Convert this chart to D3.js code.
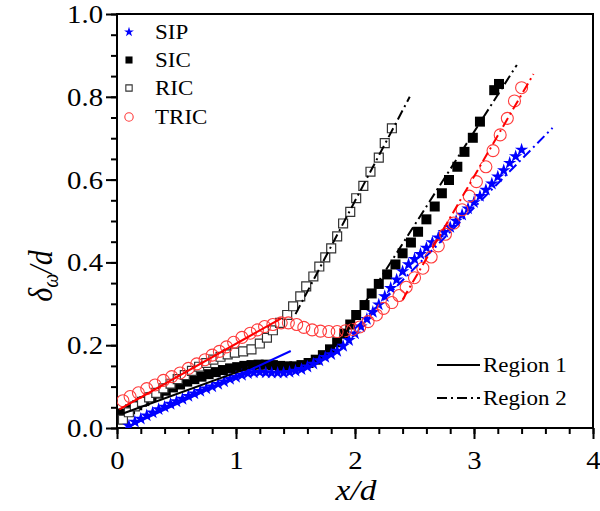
<!DOCTYPE html>
<html><head><meta charset="utf-8">
<script src="https://cdn.jsdelivr.net/npm/d3@7"></script>
<style>body{margin:0;background:#fff} svg{display:block}</style>
</head><body>
<svg id="chart" width="600" height="511"></svg>
<script>
// ---------------- data ----------------
const xTicks = [0, 1, 2, 3, 4];
const yTicks = [0.0, 0.2, 0.4, 0.6, 0.8, 1.0];
const xTickLabels = ["0", "1", "2", "3", "4"];
const yTickLabels = ["0.0", "0.2", "0.4", "0.6", "0.8", "1.0"];
const seriesNames = ["SIP", "SIC", "RIC", "TRIC"];
const regionNames = ["Region 1", "Region 2"];

const sipData = [[0.10,0.005],[0.15,0.015],[0.20,0.022],[0.25,0.030],[0.30,0.037],[0.35,0.045],[0.40,0.051],[0.45,0.058],[0.50,0.064],[0.55,0.070],[0.60,0.077],[0.65,0.083],[0.70,0.089],[0.75,0.095],[0.80,0.100],[0.85,0.106],[0.90,0.112],[0.95,0.118],[1.00,0.123],[1.05,0.128],[1.10,0.132],[1.15,0.134],[1.20,0.135],[1.25,0.134],[1.30,0.133],[1.35,0.133],[1.40,0.133],[1.45,0.135],[1.50,0.138],[1.55,0.142],[1.60,0.148],[1.65,0.155],[1.70,0.163],[1.75,0.171],[1.80,0.178],[1.85,0.186],[1.90,0.198],[1.95,0.212],[2.00,0.228],[2.05,0.245],[2.10,0.263],[2.15,0.280],[2.20,0.298],[2.25,0.318],[2.30,0.338],[2.35,0.358],[2.40,0.378],[2.45,0.395],[2.50,0.408],[2.55,0.420],[2.60,0.435],[2.65,0.448],[2.70,0.460],[2.75,0.473],[2.80,0.485],[2.85,0.500],[2.90,0.515],[2.95,0.530],[3.00,0.545],[3.05,0.560],[3.10,0.575],[3.15,0.590],[3.20,0.607],[3.25,0.622],[3.30,0.640],[3.35,0.656],[3.40,0.672]];

const sicData = [[0.05,0.035],[0.11,0.045],[0.17,0.055],[0.23,0.065],[0.29,0.075],[0.35,0.083],[0.41,0.090],[0.47,0.098],[0.53,0.105],[0.59,0.112],[0.65,0.118],[0.71,0.124],[0.77,0.130],[0.83,0.135],[0.89,0.140],[0.95,0.144],[1.01,0.147],[1.07,0.150],[1.13,0.152],[1.19,0.153],[1.25,0.153],[1.31,0.152],[1.37,0.150],[1.43,0.149],[1.49,0.149],[1.55,0.152],[1.61,0.157],[1.67,0.165],[1.73,0.176],[1.79,0.190],[1.85,0.207],[1.91,0.228],[1.96,0.250],[2.01,0.273],[2.08,0.297],[2.14,0.325],[2.20,0.348],[2.27,0.371],[2.34,0.395],[2.40,0.422],[2.47,0.448],[2.53,0.474],[2.60,0.504],[2.67,0.535],[2.73,0.567],[2.79,0.599],[2.86,0.631],[2.92,0.667],[2.99,0.701],[3.05,0.740],[3.17,0.816],[3.21,0.831]];

const ricData = [[0.05,0.020],[0.10,0.038],[0.15,0.052],[0.21,0.063],[0.27,0.074],[0.33,0.085],[0.39,0.096],[0.45,0.107],[0.51,0.118],[0.57,0.128],[0.63,0.138],[0.69,0.148],[0.75,0.157],[0.81,0.165],[0.87,0.172],[0.93,0.178],[0.99,0.182],[1.06,0.185],[1.13,0.190],[1.20,0.204],[1.26,0.218],[1.31,0.236],[1.37,0.254],[1.43,0.273],[1.48,0.294],[1.54,0.318],[1.59,0.342],[1.65,0.366],[1.70,0.390],[1.75,0.412],[1.80,0.434],[1.85,0.463],[1.90,0.494],[1.96,0.522],[2.01,0.555],[2.07,0.585],[2.13,0.619],[2.20,0.653],[2.25,0.688],[2.31,0.724]];

const tricData = [[0.05,0.066],[0.11,0.076],[0.18,0.085],[0.25,0.095],[0.32,0.104],[0.39,0.115],[0.46,0.124],[0.53,0.133],[0.60,0.144],[0.67,0.155],[0.74,0.165],[0.80,0.176],[0.86,0.185],[0.92,0.196],[0.98,0.207],[1.05,0.219],[1.12,0.229],[1.18,0.237],[1.24,0.245],[1.31,0.250],[1.38,0.254],[1.44,0.254],[1.51,0.250],[1.57,0.243],[1.64,0.237],[1.71,0.234],[1.78,0.233],[1.85,0.233],[1.92,0.235],[1.98,0.238],[2.04,0.244],[2.11,0.257],[2.18,0.273],[2.24,0.289],[2.31,0.303],[2.37,0.320],[2.43,0.340],[2.50,0.363],[2.57,0.386],[2.64,0.413],[2.70,0.440],[2.76,0.468],[2.83,0.495],[2.90,0.527],[2.96,0.560],[3.02,0.595],[3.10,0.631],[3.16,0.670],[3.22,0.708],[3.28,0.748],[3.34,0.790],[3.40,0.822]];

// linear fits: region 1 (solid) and region 2 (dash-dot)
const sipFit1 = [[0.07,0.000],[1.46,0.186]];
const sicFit1 = [[0.05,0.035],[1.20,0.155]];
const tricFit1 = [[0.02,0.045],[1.38,0.265]];
const sipFit2 = [[2.00,0.240],[3.66,0.725]];
const sicFit2 = [[1.90,0.220],[3.36,0.877]];
const ricFit2 = [[1.50,0.275],[2.46,0.800]];
const tricFit2 = [[2.40,0.310],[3.50,0.855]];

// ---------------- chart ----------------
const FONT = '"Liberation Serif","Times New Roman",Times,serif';
const SX = 1.15;
const L = 117, R = 593, T = 14, B = 428;
const svg = d3.select("#chart");
const x = d3.scaleLinear().domain([0, 4]).range([L, R]);
const y = d3.scaleLinear().domain([0, 1]).range([B, T]);

svg.append("defs").append("clipPath").attr("id", "plotclip")
  .append("rect").attr("x", L).attr("y", T).attr("width", R - L).attr("height", B - T);

function styleAxis(g) {
  g.select(".domain").remove();
  g.selectAll("line").attr("stroke", "#000").attr("stroke-width", 2);
}
svg.append("g").attr("transform", `translate(0,${B})`)
  .call(d3.axisBottom(x).tickValues(d3.range(0, 4.001, 0.2)).tickSize(6).tickFormat(""))
  .call(styleAxis);
svg.append("g").attr("transform", `translate(${L},0)`)
  .call(d3.axisLeft(y).tickValues(d3.range(0, 1.001, 0.05)).tickSize(6).tickFormat(""))
  .call(styleAxis);
const gx = svg.append("g").attr("transform", `translate(0,${B})`)
  .call(d3.axisBottom(x).tickValues(xTicks).tickSize(11).tickPadding(12)
    .tickFormat((d, i) => xTickLabels[i]))
  .call(styleAxis);
gx.selectAll("text").attr("font-family", FONT).attr("font-size", 25).attr("fill", "#000")
  .attr("transform", `scale(${SX},1)`);
const gy = svg.append("g").attr("transform", `translate(${L},0)`)
  .call(d3.axisLeft(y).tickValues(yTicks).tickSize(11)
    .tickFormat((d, i) => yTickLabels[i]))
  .call(styleAxis);
gy.selectAll("text").attr("font-family", FONT).attr("font-size", 25).attr("fill", "#000")
  .attr("x", -14 / SX).attr("dy", "0.34em").attr("transform", `scale(${SX},1)`);

svg.append("rect").attr("x", L).attr("y", T).attr("width", R - L).attr("height", B - T)
  .attr("fill", "none").attr("stroke", "#000").attr("stroke-width", 2);

// markers
const plot = svg.append("g").attr("clip-path", "url(#plotclip)");
const sqBig = d3.symbol().type(d3.symbolSquare).size(100);
const sqOpen = d3.symbol().type(d3.symbolSquare).size(80);
const star = d3.symbol().type(d3.symbolStar).size(55);

plot.append("g").selectAll("path").data(sicData).join("path")
  .attr("d", sqBig).attr("transform", d => `translate(${x(d[0])},${y(d[1])})`)
  .attr("fill", "#000");
plot.append("g").selectAll("path").data(ricData).join("path")
  .attr("d", sqOpen).attr("transform", d => `translate(${x(d[0])},${y(d[1])})`)
  .attr("fill", "#fff").attr("stroke", "#333").attr("stroke-width", 1.2);
plot.append("g").selectAll("path").data(sipData).join("path")
  .attr("d", star).attr("transform", d => `translate(${x(d[0])},${y(d[1])})`)
  .attr("fill", "#0000ff");
plot.append("g").selectAll("circle").data(tricData).join("circle")
  .attr("cx", d => x(d[0])).attr("cy", d => y(d[1])).attr("r", 6)
  .attr("fill", "none").attr("stroke", "#ff3b3b").attr("stroke-width", 1.1);

// fit lines
const line = d3.line().x(d => x(d[0])).y(d => y(d[1]));
const DASHDOT = "10,4,2,4";
const fits = [
  [sicFit1, "#000", null], [sipFit1, "#0000ff", null], [tricFit1, "#ff0000", null],
  [sipFit2, "#0000ff", DASHDOT], [sicFit2, "#000", DASHDOT], [ricFit2, "#000", DASHDOT], [tricFit2, "#ff0000", DASHDOT]
];
fits.forEach(([d, c, dash]) => {
  plot.append("path").attr("d", line(d)).attr("fill", "none").attr("stroke", c)
    .attr("stroke-width", 2).attr("stroke-dasharray", dash);
});

// legend 1 (series)
const legY = [32, 60, 88, 117];
const legX = 129;
const lg = svg.append("g");
lg.append("path").attr("d", d3.symbol().type(d3.symbolStar).size(30)())
  .attr("transform", `translate(${legX},${legY[0]})`).attr("fill", "#0000ff");
lg.append("path").attr("d", d3.symbol().type(d3.symbolSquare).size(50)())
  .attr("transform", `translate(${legX},${legY[1]})`).attr("fill", "#000");
lg.append("path").attr("d", d3.symbol().type(d3.symbolSquare).size(40)())
  .attr("transform", `translate(${legX},${legY[2]})`).attr("fill", "#fff").attr("stroke", "#333").attr("stroke-width", 1.1);
lg.append("circle").attr("cx", legX).attr("cy", legY[3]).attr("r", 4.2)
  .attr("fill", "none").attr("stroke", "#ff3b3b").attr("stroke-width", 1.1);
seriesNames.forEach((n, i) => {
  lg.append("text").text(n).attr("font-family", FONT).attr("font-size", 20).attr("fill", "#000")
    .attr("transform", `translate(155,${legY[i] + 7}) scale(${SX},1)`);
});

// legend 2 (regions)
const rg = svg.append("g");
const regY = [365, 398];
regionNames.forEach((n, i) => {
  rg.append("line").attr("x1", 437).attr("x2", 480).attr("y1", regY[i]).attr("y2", regY[i])
    .attr("stroke", "#000").attr("stroke-width", 2)
    .attr("stroke-dasharray", i === 0 ? null : DASHDOT);
  rg.append("text").text(n).attr("font-family", FONT).attr("font-size", 20).attr("fill", "#000")
    .attr("transform", `translate(483,${regY[i] + 7}) scale(${SX},1)`);
});

// axis titles
svg.append("text").attr("font-family", FONT).attr("font-size", 29).attr("font-style", "italic")
  .attr("text-anchor", "middle").attr("transform", `translate(356,500) scale(${SX},1)`)
  .text("x/d");
const yl = svg.append("text").attr("font-family", FONT).attr("font-size", 30).attr("font-style", "italic")
  .attr("text-anchor", "middle").attr("transform", `translate(52,276) rotate(-90) scale(1,${SX})`);
yl.append("tspan").text("δ");
yl.append("tspan").text("ω").attr("font-size", 20).attr("dy", "0.25em");
yl.append("tspan").text("/d").attr("dy", "-0.17em");
</script>
</body></html>
